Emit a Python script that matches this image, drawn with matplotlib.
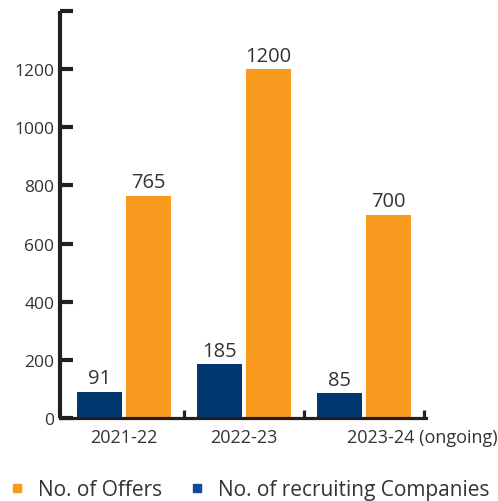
import matplotlib
matplotlib.use("Agg")
import matplotlib.pyplot as plt
from matplotlib.lines import Line2D
import numpy as np

plt.rcParams['font.family'] = ['Open Sans', 'DejaVu Sans']

years = ["2021-22", "2022-23", "2023-24 (ongoing)"]
offers = [765, 1200, 700]
companies = [91, 185, 85]
y_ticks = [0, 200, 400, 600, 800, 1000, 1200, 1400]
y_labels = ["0", "200", "400", "600", "800", "1000", "1200", ""]

ORANGE = "#F79A1E"
BLUE = "#00386F"
BLUE_LEG = "#0B4C9C"
DARK = "#231F20"
TXT = "#333333"

fig = plt.figure(figsize=(4.98, 5.02), dpi=100)
W, H = 498, 502
ax = fig.add_axes([60 / W, (H - 419) / H, (426 - 60) / W, (419 - 12) / H])

x = np.arange(len(years))
bw = 0.375
off = 0.204
b1 = ax.bar(x - off, companies, bw, color=BLUE, zorder=2)
b2 = ax.bar(x + off, offers, bw, color=ORANGE, zorder=2)

for rect, v in zip(list(b1) + list(b2), companies + offers):
    ax.text(rect.get_x() + rect.get_width() / 2, rect.get_height() + 12, str(v),
            ha='center', va='bottom', fontsize=14.5, color=TXT)

ax.set_xlim(-0.533, 2.517)
ax.set_ylim(0, 1400)

for s in ['top', 'right']:
    ax.spines[s].set_visible(False)
ax.spines['left'].set_linewidth(3.0)
ax.spines['bottom'].set_linewidth(2.3)
ax.spines['left'].set_color(DARK)
ax.spines['bottom'].set_color(DARK)
ax.spines['left'].set_capstyle('butt')

ax.set_yticks(y_ticks)
ax.set_yticklabels(y_labels)
ax.tick_params(axis='y', direction='in', length=9.5, width=3, color=DARK,
               labelsize=12.5, labelcolor=TXT, pad=4)

ax.set_xticks([0, 1, 2.49])
ax.set_xticklabels(years)
ax.tick_params(axis='x', which='major', length=0, labelsize=13, labelcolor=TXT, pad=7)
ax.set_xticks([0.5, 1.5, 2.5], minor=True)
ax.tick_params(axis='x', which='minor', direction='in', length=6, width=2.3, color=DARK)

handles = [Line2D([], [], marker='s', linestyle='none', color=ORANGE, markersize=6),
           Line2D([], [], marker='s', linestyle='none', color=BLUE_LEG, markersize=6)]
fig.legend(handles, ["No. of Offers", "No. of recruiting Companies"], loc='center',
           bbox_to_anchor=(0.5, (H - 491) / H), ncol=2, frameon=False, fontsize=15,
           handletextpad=0.6, columnspacing=1.3, labelcolor=TXT, handlelength=0.8,
           borderpad=0.1, borderaxespad=0)

fig.savefig("out.png", dpi=100)
